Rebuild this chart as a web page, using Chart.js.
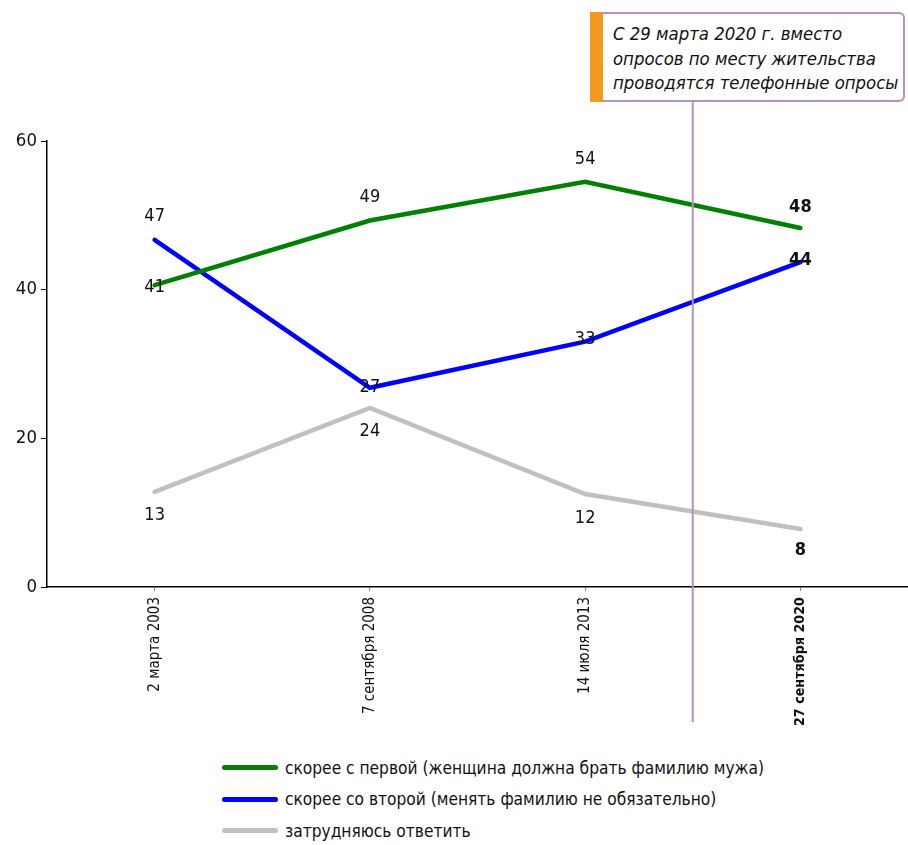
<!DOCTYPE html>
<html>
<head>
<meta charset="utf-8">
<script src="https://cdn.jsdelivr.net/npm/chart.js@4"></script>
<style>
body { margin: 0; background: #fff; }
#wrap { position: relative; width: 908px; height: 845px; font-family: "Liberation Sans Narrow", "DejaVu Sans Condensed", sans-serif; }
#chart { position: absolute; left: 0; top: 0; }
#note-bar { position: absolute; left: 590px; top: 12px; width: 14px; height: 90px; background: #f39a1e; }
#note { position: absolute; left: 603px; top: 12px; width: 300px; height: 86px; border: 2px solid #b591bd; border-left: none; border-radius: 0 6px 6px 0; background: #fff; }
#note div { position: absolute; left: 10px; top: 8px; font-style: italic; font-size: 18.4px; line-height: 24.5px; color: #111; white-space: nowrap; }
#legend { position: absolute; left: 222px; top: 752px; }
.row { height: 31.5px; display: flex; align-items: center; font-size: 17.2px; color: #111; white-space: nowrap; }
.swatch { width: 56px; height: 5px; border-radius: 3px; margin-right: 7px; }
</style>
</head>
<body>
<div id="wrap">
<canvas id="chart" width="908" height="740"></canvas>
<div id="note-bar"></div>
<div id="note"><div>С 29 марта 2020 г. вместо<br>опросов по месту жительства<br>проводятся телефонные опросы</div></div>
<div id="legend"></div>
</div>
<script>
const labels = ["2 марта 2003", "7 сентября 2008", "14 июля 2013", "27 сентября 2020"];

const first = [40.6, 49.3, 54.5, 48.3];
const second = [46.7, 26.8, 33, 43.7];
const hard = [12.8, 24.1, 12.5, 7.8];

const firstText = [41, 49, 54, 48];
const secondText = [47, 27, 33, 44];
const hardText = [13, 24, 12, 8];

const names = [
  "скорее с первой (женщина должна брать фамилию мужа)",
  "скорее со второй (менять фамилию не обязательно)",
  "затрудняюсь ответить"
];
const colors = ["#008000", "#0000ff", "#c0c0c0"];

// label offsets from the point, in px
const labelDy = [
  [2, -23, -23, -21],
  [-24, 0, -2, -2],
  [23, 23, 24, 21]
];
const texts = [firstText, secondText, hardText];

const fontFam = '"Liberation Sans Narrow", "DejaVu Sans Condensed", sans-serif';

const pointLabels = {
  id: "pointLabels",
  afterDatasetsDraw(chart) {
    const ctx = chart.ctx;
    ctx.save();
    ctx.textAlign = "center";
    ctx.textBaseline = "middle";
    ctx.fillStyle = "#111";
    chart.data.datasets.forEach((ds, i) => {
      chart.getDatasetMeta(i).data.forEach((pt, j) => {
        const bold = j === labels.length - 1;
        ctx.font = (bold ? "bold " : "") + "18px " + fontFam;
        ctx.fillText(texts[i][j], pt.x, pt.y + labelDy[i][j]);
      });
    });
    ctx.restore();
  }
};

const divider = {
  id: "divider",
  afterDraw(chart) {
    const x = chart.scales.x.getPixelForValue(2.5);
    const ctx = chart.ctx;
    ctx.save();
    ctx.strokeStyle = "#b591bd";
    ctx.lineWidth = 2;
    ctx.beginPath();
    ctx.moveTo(x, 98);
    ctx.lineTo(x, 722);
    ctx.stroke();
    ctx.restore();
  }
};

new Chart(document.getElementById("chart"), {
  type: "line",
  data: {
    labels: labels,
    datasets: [first, second, hard].map((d, i) => ({
      label: names[i],
      data: d,
      borderColor: colors[i],
      backgroundColor: colors[i],
      borderWidth: 4.5,
      borderCapStyle: "round",
      pointRadius: 0,
      tension: 0
    }))
  },
  options: {
    responsive: false,
    animation: false,
    layout: { padding: { top: 141, right: -4, left: 0, bottom: 0 } },
    plugins: { legend: { display: false }, tooltip: { enabled: false } },
    scales: {
      x: {
        offset: true,
        afterFit(s) { s.height = 153; },
        border: { color: "#000", width: 1.5 },
        grid: { drawOnChartArea: false, drawTicks: true, tickLength: 4, color: "#888" },
        ticks: {
          minRotation: 90, maxRotation: 90, padding: 6,
          color: "#111",
          font: ctx => ({ family: fontFam, size: ctx.index === 3 ? 14.2 : 15, weight: ctx.index === 3 ? "bold" : "normal" })
        }
      },
      y: {
        min: 0, max: 60,
        afterFit(s) { s.width = 47; },
        border: { color: "#000", width: 1.5 },
        grid: { drawOnChartArea: false, drawTicks: true, tickLength: 6, color: "#000" },
        ticks: { stepSize: 20, padding: 4, color: "#111", font: { family: fontFam, size: 18.5 } }
      }
    }
  },
  plugins: [pointLabels, divider]
});

const legend = document.getElementById("legend");
names.forEach((n, i) => {
  legend.innerHTML += `<div class="row"><div class="swatch" style="background:${colors[i]}"></div>${n}</div>`;
});
</script>
</body>
</html>
